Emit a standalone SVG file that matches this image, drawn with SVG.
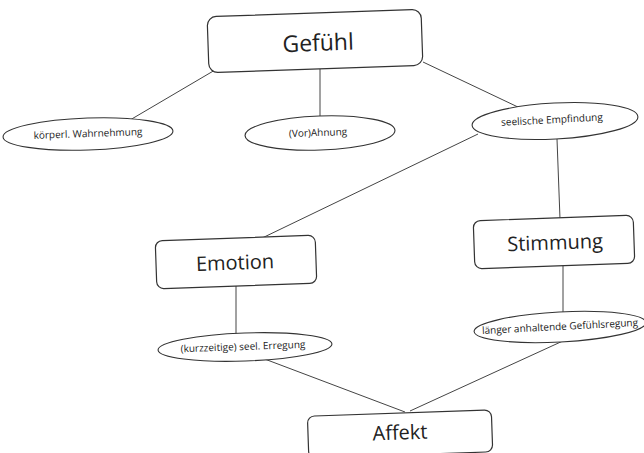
<svg xmlns="http://www.w3.org/2000/svg" width="644" height="453" viewBox="0 0 644 453">
<style>
.box{fill:#fff;stroke:#333;stroke-width:1.2}
.ell{fill:#fff;stroke:#333;stroke-width:1.1}
.big{font-family:"Open Sans","Noto Sans","Liberation Sans",sans-serif;fill:#222;text-anchor:middle;dominant-baseline:central}
.sm{font-family:"Open Sans","Noto Sans","Liberation Sans",sans-serif;fill:#222;text-anchor:middle;dominant-baseline:central;font-size:10px}
.con line{stroke:#444;stroke-width:1}
</style>
<rect width="644" height="453" fill="#fff"/>
<g class="con" id="connectors">
<line x1="215" y1="70" x2="130" y2="120"/>
<line x1="320" y1="69" x2="320" y2="116"/>
<line x1="423" y1="62" x2="520" y2="108"/>
<line x1="478" y1="134" x2="258" y2="240"/>
<line x1="557" y1="139" x2="560" y2="219"/>
<line x1="236" y1="286" x2="236" y2="335"/>
<line x1="563" y1="266" x2="563" y2="313"/>
<line x1="262" y1="358" x2="405" y2="412"/>
<line x1="565" y1="340" x2="410" y2="411"/>
</g>
<g id="gefuehl" transform="rotate(-2 315 41)">
<rect class="box" x="208" y="13" width="214" height="56" rx="9"/>
<text class="big" x="318" y="42" font-size="23">Gefühl</text>
</g>
<g id="koerperl" transform="rotate(-2 88 134)">
<ellipse class="ell" cx="88" cy="134" rx="85" ry="16"/>
<text class="sm" x="88" y="133">körperl. Wahrnehmung</text>
</g>
<g id="ahnung" transform="rotate(-2 320 133)">
<ellipse class="ell" cx="320" cy="133" rx="75" ry="17"/>
<text class="sm" x="318" y="132">(Vor)Ahnung</text>
</g>
<g id="seelisch" transform="rotate(-3 555 121)">
<ellipse class="ell" cx="555" cy="121" rx="83" ry="18"/>
<text class="sm" x="552" y="119">seelische Empfindung</text>
</g>
<g id="emotion" transform="rotate(-2 236 262)">
<rect class="box" x="156" y="238" width="160" height="48" rx="7"/>
<text class="big" x="235" y="262" font-size="20">Emotion</text>
</g>
<g id="stimmung" transform="rotate(-2 554 242)">
<rect class="box" x="474" y="218" width="160" height="48" rx="7"/>
<text class="big" x="555" y="242" font-size="20">Stimmung</text>
</g>
<g id="kurz" transform="rotate(-2 245 347)">
<ellipse class="ell" cx="245" cy="347" rx="87" ry="14"/>
<text class="sm" x="243" y="346">(kurzzeitige) seel. Erregung</text>
</g>
<g id="laenger" transform="rotate(-3 560 327)">
<ellipse class="ell" cx="560" cy="327" rx="86" ry="15"/>
<text class="sm" x="560" y="326">länger anhaltende Gefühlsregung</text>
</g>
<g id="affekt" transform="rotate(-2 400 432)">
<rect class="box" x="308" y="413" width="184" height="42" rx="7"/>
<text class="big" x="400" y="432" font-size="20">Affekt</text>
</g>
</svg>
